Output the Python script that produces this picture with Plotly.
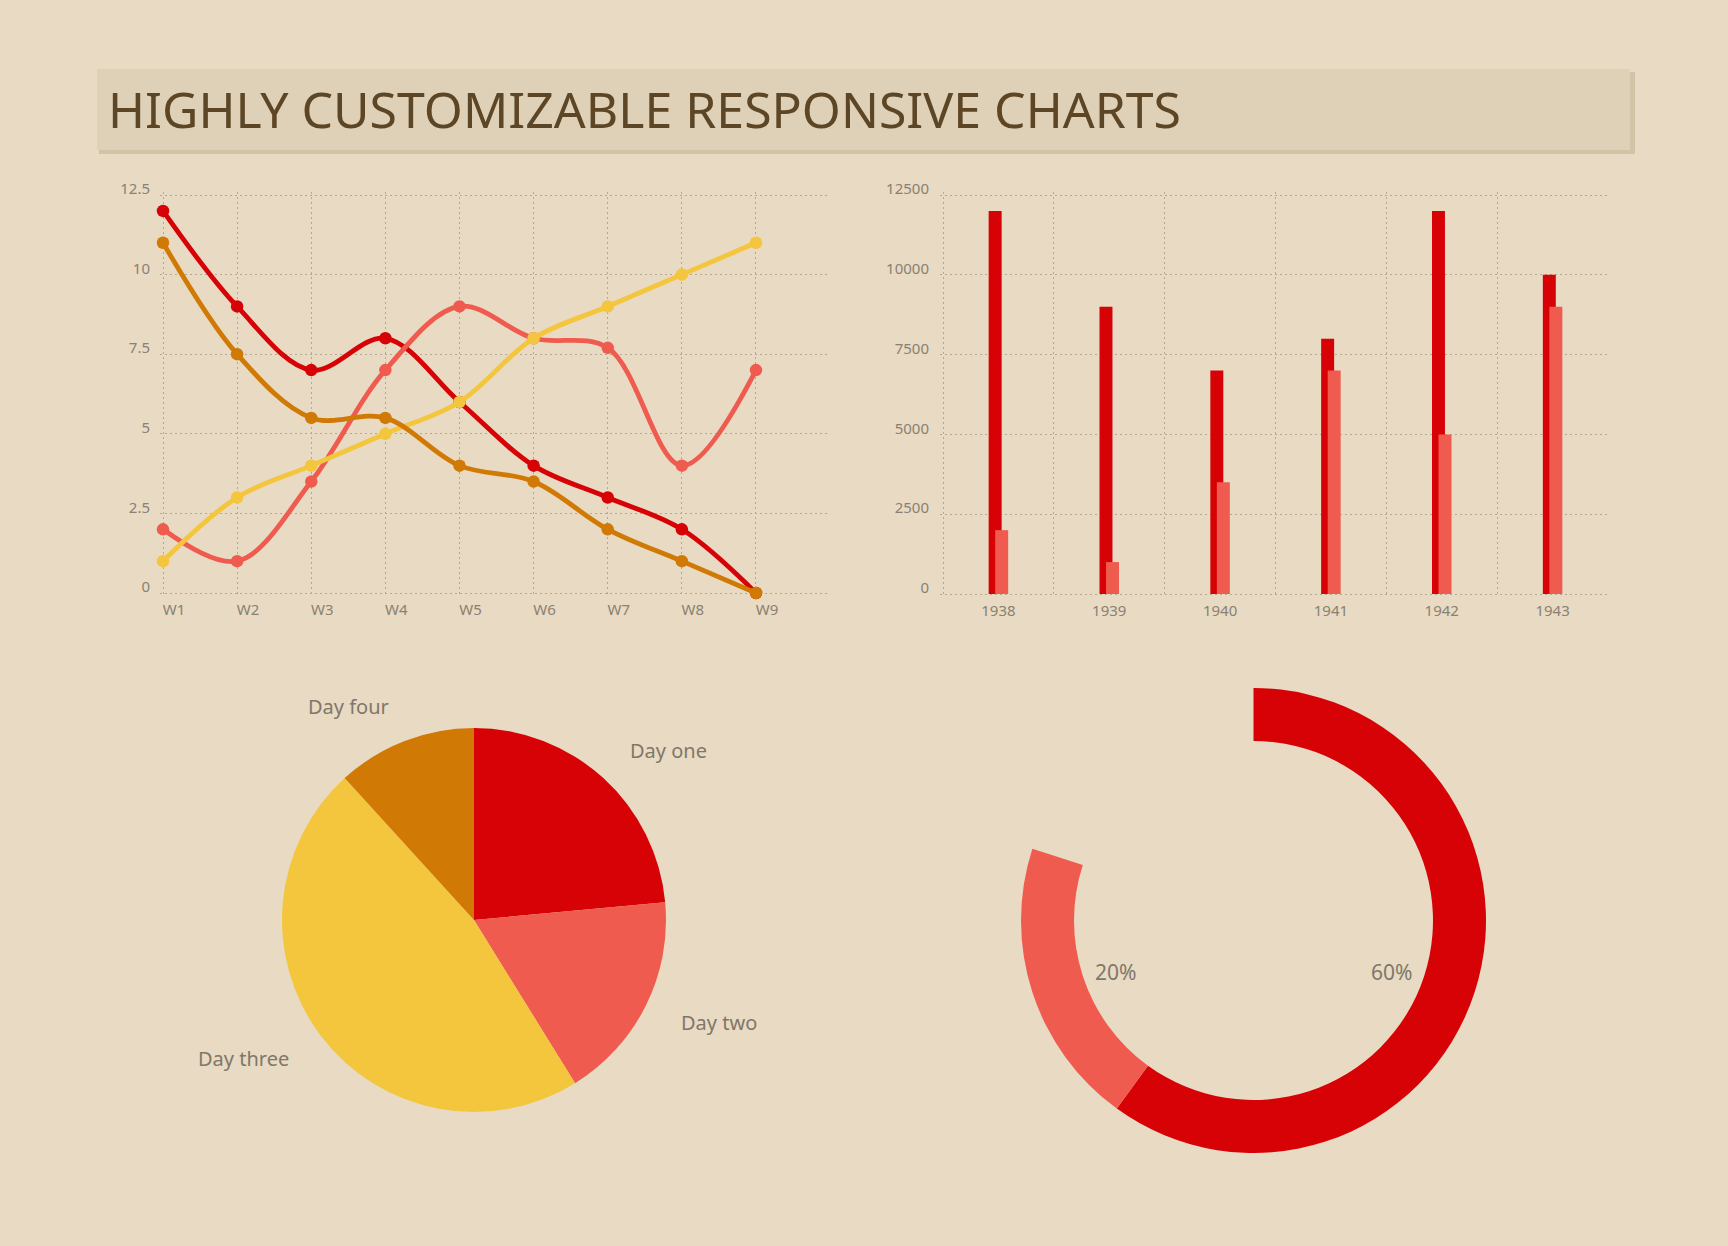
import math
import plotly.graph_objects as go

# ---------------- data ----------------
weeks = ["W1", "W2", "W3", "W4", "W5", "W6", "W7", "W8", "W9"]
line_red = [12, 9, 7, 8, 6, 4, 3, 2, 0]
line_salmon = [2, 1, 3.5, 7, 9, 8, 7.7, 4, 7]
line_yellow = [1, 3, 4, 5, 6, 8, 9, 10, 11]
line_orange = [11, 7.5, 5.5, 5.5, 4, 3.5, 2, 1, 0]
line_yticks = [0, 2.5, 5, 7.5, 10, 12.5]
line_yticktext = ["0", "2.5", "5", "7.5", "10", "12.5"]

years = ["1938", "1939", "1940", "1941", "1942", "1943"]
bar_red = [12000, 9000, 7000, 8000, 12000, 10000]
bar_salmon = [2000, 1000, 3500, 7000, 5000, 9000]
bar_yticks = [0, 2500, 5000, 7500, 10000, 12500]

pie_labels = ["Day one", "Day two", "Day three", "Day four"]
pie_values = [20, 15, 40, 10]

gauge_labels = ["60%", "20%"]
gauge_values = [60, 20]
gauge_total = 100

title_text = "HIGHLY CUSTOMIZABLE RESPONSIVE CHARTS"

# ---------------- style ----------------
W, H = 1728, 1246
BG = "#e8dac3"
BOX = "#dfd1b7"
SHADOW = "#d2c3a7"
TITLE_C = "#5c4626"
GRID = "#b3a892"
LABEL = "#8a8172"
PIE_LABEL = "#80776a"
RED = "#d70206"
SALMON = "#f05b4f"
YELLOW = "#f4c63d"
ORANGE = "#d17905"
FONT = "Noto Sans, Open Sans, sans-serif"
DASH = "2px,3px"


def px(x):
    return x / W


def py(y):
    return 1 - y / H


fig = go.Figure()

# ---------------- line chart ----------------
xs = list(range(len(weeks)))
for vals, col in [(line_red, RED), (line_salmon, SALMON),
                  (line_yellow, YELLOW), (line_orange, ORANGE)]:
    fig.add_trace(go.Scatter(
        x=xs, y=vals, mode="lines+markers",
        line=dict(color=col, width=4.8, shape="spline", smoothing=1),
        marker=dict(color=col, size=12.5),
        cliponaxis=False, xaxis="x", yaxis="y", hoverinfo="skip"))

# ---------------- bar chart ----------------
bx = list(range(len(years)))
fig.add_trace(go.Bar(x=bx, y=bar_red, width=0.117, offset=-0.088,
                     marker=dict(color=RED, line=dict(width=0)),
                     xaxis="x2", yaxis="y2", hoverinfo="skip"))
fig.add_trace(go.Bar(x=bx, y=bar_salmon, width=0.117, offset=-0.029,
                     marker=dict(color=SALMON, line=dict(width=0)),
                     xaxis="x2", yaxis="y2", hoverinfo="skip"))

# ---------------- pie ----------------
PIE_CX, PIE_CY, PIE_R = 474, 920, 192
fig.add_trace(go.Pie(
    labels=pie_labels, values=pie_values, sort=False, direction="clockwise",
    rotation=0, textinfo="none", hoverinfo="skip", automargin=False,
    marker=dict(colors=[RED, SALMON, YELLOW, ORANGE], line=dict(width=0)),
    domain=dict(x=[px(PIE_CX - PIE_R), px(PIE_CX + PIE_R)],
                y=[py(PIE_CY + PIE_R), py(PIE_CY - PIE_R)])))

# ---------------- gauge donut ----------------
DON_CX, DON_CY, DON_R = 1253.5, 920.5, 232.5
gauge_rest = gauge_total - sum(gauge_values)
fig.add_trace(go.Pie(
    labels=gauge_labels + ["rest"], values=gauge_values + [gauge_rest],
    sort=False, direction="clockwise", rotation=0, hole=0.772,
    textinfo="none", hoverinfo="skip", automargin=False,
    marker=dict(colors=[RED, SALMON, "rgba(0,0,0,0)"], line=dict(width=0)),
    domain=dict(x=[px(DON_CX - DON_R), px(DON_CX + DON_R)],
                y=[py(DON_CY + DON_R), py(DON_CY - DON_R)])))

annotations = []

# pie labels derived from slice mid-angles
tot = sum(pie_values)
cum = 0
for lab, v in zip(pie_labels, pie_values):
    mid = (cum + v / 2) / tot * 2 * math.pi
    cum += v
    r = PIE_R + 37
    lx = PIE_CX + math.sin(mid) * r
    ly = PIE_CY - math.cos(mid) * r
    annotations.append(dict(
        x=px(lx), y=py(ly), xref="paper", yref="paper", text=lab,
        showarrow=False, xanchor="left" if math.sin(mid) > 0 else "right",
        yanchor="middle", font=dict(family=FONT, size=20, color=PIE_LABEL)))

# gauge labels derived from segment mid-angles
cum = 0
for lab, v in zip(gauge_labels, gauge_values):
    mid = (cum + v / 2) / gauge_total * 2 * math.pi
    cum += v
    r = 145
    lx = DON_CX + math.sin(mid) * r
    ly = DON_CY - math.cos(mid) * r
    annotations.append(dict(
        x=px(lx), y=py(ly), xref="paper", yref="paper", text=lab,
        showarrow=False, xanchor="center", yanchor="middle", yshift=-7,
        font=dict(family=FONT, size=21, color=PIE_LABEL)))

# title
annotations.append(dict(
    x=px(106), y=py(109), xref="paper", yref="paper", text=title_text,
    showarrow=False, xanchor="left", yanchor="middle",
    font=dict(family=FONT, size=50, color=TITLE_C)))

shapes = [
    dict(type="rect", xref="paper", yref="paper", layer="below",
         x0=px(99), x1=px(1635), y0=py(154), y1=py(72),
         fillcolor=SHADOW, line=dict(width=0)),
    dict(type="rect", xref="paper", yref="paper", layer="below",
         x0=px(97), x1=px(1630), y0=py(150), y1=py(69),
         fillcolor=BOX, line=dict(width=0)),
]

tick_font = dict(family=FONT, size=15, color=LABEL)
grid_common = dict(showgrid=True, gridcolor=GRID, gridwidth=1, griddash=DASH,
                   zeroline=False, showline=False, ticks="", tickfont=tick_font,
                   automargin=False)

# range paddings of a few px keep the edge grid lines from being dropped
PAD = 3
ly_unit = 398 / 12.5
lx_unit = 74.125
by_unit = 399 / 12500
bx_unit = 110.8

fig.update_layout(
    width=W, height=H, autosize=False,
    margin=dict(l=0, r=0, t=0, b=0, pad=0, autoexpand=False),
    paper_bgcolor=BG, plot_bgcolor="rgba(0,0,0,0)",
    showlegend=False, barmode="overlay",
    annotations=annotations, shapes=shapes,
    xaxis=dict(domain=[px(163 - PAD), px(827)],
               range=[-PAD / lx_unit, 8.958],
               tickmode="array", tickvals=xs, ticktext=weeks,
               ticklabelshift=11, ticklabelstandoff=3, anchor="y",
               **grid_common),
    yaxis=dict(domain=[py(593 + PAD), py(195 - PAD)],
               range=[-PAD / ly_unit, 12.5 + PAD / ly_unit],
               tickmode="array", tickvals=line_yticks, ticktext=line_yticktext,
               ticklabelshift=-6, ticklabelstandoff=9, anchor="x",
               **grid_common),
    xaxis2=dict(domain=[px(943 - PAD), px(1608)],
                range=[-0.5 - PAD / bx_unit, 5.5],
                tickmode="array", tickvals=bx, ticktext=years,
                showgrid=False, zeroline=False, showline=False, ticks="",
                tickfont=tick_font, ticklabelstandoff=3, anchor="y2",
                automargin=False,
                minor=dict(tickmode="array",
                           tickvals=[i - 0.5 for i in bx],
                           showgrid=True, gridcolor=GRID, gridwidth=1,
                           griddash=DASH, ticks="")),
    yaxis2=dict(domain=[py(594 + PAD), py(195 - PAD)],
                range=[-PAD / by_unit, 12500 + PAD / by_unit],
                tickmode="array", tickvals=bar_yticks,
                ticktext=[str(t) for t in bar_yticks],
                ticklabelshift=-6, ticklabelstandoff=10, anchor="x2",
                **grid_common),
)

fig.write_html("out.html")
